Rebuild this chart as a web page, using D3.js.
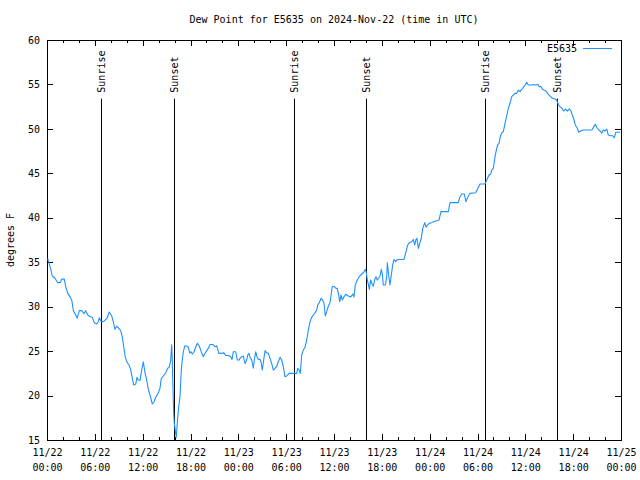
<!DOCTYPE html>
<html><head><meta charset="utf-8">
<script src="https://cdn.jsdelivr.net/npm/d3@7"></script>
<style>
html,body{margin:0;padding:0;background:#fff;}
text{font-family:"DejaVu Sans Mono",monospace;font-size:10px;fill:#000;}
</style></head>
<body>
<svg id="chart" width="640" height="480"></svg>
<script>
const chartTitle = "Dew Point for E5635 on 2024-Nov-22 (time in UTC)";
const yLabel = "degrees F";
const seriesName = "E5635";
const startUtc = Date.UTC(2024, 10, 22, 0, 0);
const spanHours = 72;
const yDomain = [15, 60];
const yTicks = [15, 20, 25, 30, 35, 40, 45, 50, 55, 60];

// Sun events, hours after 2024-11-22 00:00 UTC
const sunEvents = [
  {label: "Sunrise", h: 6.81}, {label: "Sunset", h: 15.97},
  {label: "Sunrise", h: 30.94}, {label: "Sunset", h: 40.06},
  {label: "Sunrise", h: 54.98}, {label: "Sunset", h: 63.97}
];
const sunLineTop = 53.4; // deg F level where the marker lines start

// [hours after start, dew point F]
const obsDay1 = [
[0.09,35.4],[0.25,34.9],[0.50,34.1],[0.66,33.45],[1.00,33.2],[1.34,32.7],[1.67,32.7],[1.84,33.1],[2.17,33.1],[2.35,32.25],
[2.60,31.5],[2.89,31.1],[3.10,30.75],[3.30,29.6],[3.60,29.06],[3.80,28.7],[4.05,29.55],[4.35,29.55],[4.64,29.2],[4.85,29.55],
[5.11,29.06],[5.39,28.9],[5.68,28.8],[5.93,28.2],[6.23,28.05],[6.43,28.3],[6.56,28.76],[6.74,28.4],[6.94,28.3],[7.19,28.4],
[7.53,28.7],[7.81,29.4],[8.12,28.95],[8.32,28.3],[8.53,27.45],[8.74,27.8],[8.94,27.65],[9.24,27.3],[9.45,26.55],[9.62,25.5],
[9.82,24.3],[10.07,23.7],[10.29,23.44],[10.50,22.9],[10.70,21.94],[10.88,21.2],[11.13,21.3],[11.29,22.05],[11.45,21.75],[11.67,21.7],
[11.88,22.9],[12.08,23.8],[12.29,22.57],[12.51,21.75],[12.71,20.7],[12.92,20.06],[13.21,19.05],[13.42,19.3],[13.67,19.87],[13.96,20.3],
[14.17,20.8],[14.34,21.94],[14.59,22.2],[14.89,22.57],[15.14,23.07],[15.34,23.2],[15.52,24.0],[15.64,25.7],[15.72,23.8],[15.81,20.4],
[15.89,18.0],[15.97,16.88],[16.09,16.1],[16.22,15.3],[16.34,16.9],[16.52,18.75],[16.68,19.87],[16.85,22.9],[16.97,24.0],[17.10,24.9],
[17.27,25.57],[17.52,25.57],[17.72,25.43],[17.90,24.8],[18.06,24.93],[18.23,24.67],[18.44,24.93],[18.65,25.43],[18.85,25.88],[19.10,25.57],
[19.35,24.93],[19.61,24.37],[19.82,24.75],[20.03,25.05],[20.23,25.3],[20.45,25.75],[20.78,25.75],[21.07,25.5],[21.29,25.6],[21.45,25.1],
[21.54,24.75],[21.91,24.75],[22.20,24.8],[22.45,24.5],[22.79,24.5],[23.04,24.37],[23.21,24.07],[23.37,24.93],[23.67,24.93],[23.87,24.0]
];
const obsDay2 = [
[24.12,24.0],[24.21,24.2],[24.42,24.37],[24.62,24.45],[24.84,23.6],[25.05,24.0],[25.18,24.56],[25.34,24.75],[25.46,24.3],[25.68,24.0],
[25.88,23.07],[26.00,24.0],[26.18,24.93],[26.34,24.37],[26.50,24.07],[26.72,24.07],[26.84,23.8],[27.01,22.87],[27.18,24.0],[27.35,25.05],
[27.56,24.8],[27.76,24.75],[27.97,24.2],[28.19,23.6],[28.39,22.87],[28.60,23.07],[28.81,23.25],[29.01,23.8],[29.23,24.3],[29.44,24.0],
[29.64,23.25],[29.85,22.12],[30.07,22.2],[30.36,22.5],[30.69,22.5],[31.02,22.5],[31.32,22.5],[31.45,23.07],[31.61,22.87],[31.77,22.5],
[31.95,24.56],[32.15,25.12],[32.36,25.43],[32.58,26.25],[32.78,27.37],[32.99,28.3],[33.20,28.8],[33.40,29.06],[33.62,29.3],[33.83,29.62],
[33.96,30.19],[34.16,30.45],[34.37,30.94],[34.58,30.75],[34.75,30.37],[34.91,28.95],[35.09,29.44],[35.29,30.07],[35.50,30.45],[35.62,31.2],
[35.79,32.3],[36.04,32.25],[36.25,32.06],[36.41,32.06],[36.59,31.3],[36.72,30.56],[36.88,31.3],[37.04,30.75],[37.25,31.1],[37.47,31.4],
[37.79,31.2],[38.10,31.1],[38.35,31.42],[38.51,31.1],[38.67,32.44],[38.92,33.0],[39.17,33.37],[39.47,33.67],[39.68,33.82],[39.93,34.2],
[40.05,33.82],[40.18,33.0],[40.30,32.55],[40.43,31.94],[40.60,33.0],[40.77,32.55],[40.93,32.3],[41.11,33.06],[41.27,33.37],[41.43,33.0],
[41.61,33.2],[41.77,33.45],[41.93,34.2],[42.06,33.64],[42.18,32.44],[42.44,32.44],[42.61,33.37],[42.69,34.94],[42.86,33.56],[43.02,32.44],
[43.19,33.56],[43.36,34.69],[43.53,35.31],[43.74,35.06],[43.94,35.31],[44.49,35.31],[44.78,35.31],[45.03,36.19],[45.25,36.94],[45.45,37.2],
[45.75,37.3],[45.95,37.56],[46.12,36.94],[46.29,37.56],[46.41,37.7],[46.58,36.56],[46.75,37.1],[46.95,37.7],[47.13,38.81],[47.38,39.45],
[47.54,38.94],[47.75,39.19],[47.95,39.37]
];
const obsDay3 = [
[48.04,39.37],[48.46,39.56],[48.88,39.67],[49.17,39.75],[49.42,40.69],[50.34,40.69],[50.55,41.7],[51.59,41.7],[51.80,42.37],[52.02,42.67],
[52.34,42.67],[52.56,41.81],[52.77,42.3],[53.06,42.75],[53.77,42.82],[54.03,43.3],[54.31,43.8],[54.94,43.8],[55.16,44.25],[55.44,44.81],
[55.66,44.93],[55.78,45.37],[55.98,45.56],[56.20,46.87],[56.41,47.81],[56.53,48.19],[56.70,48.37],[56.86,49.12],[57.04,49.56],[57.24,49.69],
[57.45,50.63],[57.66,51.45],[57.86,52.31],[58.08,52.88],[58.29,53.62],[58.49,53.81],[58.70,54.0],[58.92,54.0],[59.12,54.37],[59.33,54.19],
[59.54,54.45],[59.67,54.56],[59.96,54.94],[60.17,55.24],[60.37,54.94],[60.80,54.94],[61.00,55.0],[61.30,54.94],[61.55,55.0],[61.75,54.75],
[61.97,54.75],[62.13,54.49],[62.34,54.37],[62.59,54.26],[62.88,53.89],[63.18,53.62],[63.43,53.44],[63.72,53.36],[63.93,53.25],[64.13,52.77],
[64.35,52.5],[64.60,52.31],[64.81,52.01],[65.06,52.24],[65.26,52.0],[65.52,52.24],[65.73,52.01],[65.89,51.56],[66.11,51.0],[66.27,50.44],
[66.52,50.07],[66.70,49.62],[66.95,49.76],[67.28,49.87],[68.36,49.87],[68.58,50.25],[68.78,50.51],[68.99,50.13],[69.20,49.87],[69.40,49.76],
[69.58,49.5],[69.78,49.87],[69.99,49.76],[70.21,49.98],[70.41,49.31],[70.71,49.23],[70.96,49.23],[71.16,49.0],[71.34,49.62],[71.54,49.62],
[71.88,49.62]
];

const observations = obsDay1.concat(obsDay2, obsDay3);
const H = 3600 * 1000;
const toDate = h => new Date(startUtc + h * H);

const margin = {left: 47, right: 19, top: 40, bottom: 40};
const W = 640, Ht = 480;
const svg = d3.select("#chart");

const x = d3.scaleUtc().domain([toDate(0), toDate(spanHours)]).range([margin.left, W - margin.right]);
const y = d3.scaleLinear().domain(yDomain).range([Ht - margin.bottom, margin.top]);

const majorTimes = d3.range(0, spanHours + 1, 6).map(toDate);
const minorTimes = d3.range(0, spanHours + 1, 2).filter(h => h % 6 !== 0).map(toDate);

const fmtDay = d3.utcFormat("%m/%d"), fmtTime = d3.utcFormat("%H:%M");

// bottom axis (major, labeled)
const gB = svg.append("g").attr("transform", `translate(0,${y.range()[0]})`)
  .call(d3.axisBottom(x).tickValues(majorTimes).tickSizeInner(-6).tickSizeOuter(0).tickPadding(9).tickFormat(() => ""));
gB.selectAll(".tick text").each(function(d) {
  const t = d3.select(this);
  t.append("tspan").attr("x", 0).attr("dy", "0.71em").text(fmtDay(d));
  t.append("tspan").attr("x", 0).attr("dy", "1.5em").text(fmtTime(d));
});
svg.append("g").attr("transform", `translate(0,${y.range()[0]})`)
  .call(d3.axisBottom(x).tickValues(minorTimes).tickSizeInner(-3).tickSizeOuter(0).tickFormat(() => ""));
// top axis mirror
svg.append("g").attr("transform", `translate(0,${y.range()[1]})`)
  .call(d3.axisTop(x).tickValues(majorTimes).tickSizeInner(-6).tickSizeOuter(0).tickFormat(() => ""));
svg.append("g").attr("transform", `translate(0,${y.range()[1]})`)
  .call(d3.axisTop(x).tickValues(minorTimes).tickSizeInner(-3).tickSizeOuter(0).tickFormat(() => ""));
// left axis
svg.append("g").attr("transform", `translate(${x.range()[0]},0)`)
  .call(d3.axisLeft(y).tickValues(yTicks).tickSizeInner(-6).tickSizeOuter(0).tickPadding(7).tickFormat(d3.format("d")));
// right axis mirror
svg.append("g").attr("transform", `translate(${x.range()[1]},0)`)
  .call(d3.axisRight(y).tickValues(yTicks).tickSizeInner(-6).tickSizeOuter(0).tickFormat(() => ""));

svg.selectAll(".domain").remove();
svg.selectAll(".tick line").attr("stroke", "#000").attr("shape-rendering", "crispEdges");
svg.selectAll(".tick text").attr("font-family", "DejaVu Sans Mono, monospace").attr("font-size", 10).attr("fill", "#000");

// frame
svg.append("rect")
  .attr("x", x.range()[0]).attr("y", y.range()[1])
  .attr("width", x.range()[1] - x.range()[0]).attr("height", y.range()[0] - y.range()[1])
  .attr("fill", "none").attr("stroke", "#000").attr("shape-rendering", "crispEdges");

// sun event lines
const sg = svg.append("g");
sunEvents.forEach(e => {
  const xp = Math.round(x(toDate(e.h))) + 0.5;
  sg.append("line").attr("x1", xp).attr("x2", xp).attr("y1", y(sunLineTop)).attr("y2", y(yDomain[0]))
    .attr("stroke", "#000").attr("stroke-width", 1);
  sg.append("text").attr("transform", `translate(${xp},${y(sunLineTop) - 6}) rotate(-90)`)
    .attr("text-anchor", "start").attr("dy", "0.35em").text(e.label);
});

// data line
svg.append("clipPath").attr("id", "clip").append("rect")
  .attr("x", x.range()[0]).attr("y", y.range()[1])
  .attr("width", x.range()[1] - x.range()[0]).attr("height", y.range()[0] - y.range()[1]);
const line = d3.line().x(d => x(toDate(d[0]))).y(d => y(d[1]));
svg.append("path").datum(observations).attr("clip-path", "url(#clip)")
  .attr("d", line).attr("fill", "none").attr("stroke", "#1E90FF").attr("stroke-width", 1.1)
  .attr("stroke-linejoin", "round");

// title
svg.append("text").attr("x", (x.range()[0] + x.range()[1]) / 2).attr("y", 23)
  .attr("text-anchor", "middle").text(chartTitle);
// y label
svg.append("text").attr("transform", `translate(14,${(y.range()[0] + y.range()[1]) / 2}) rotate(-90)`)
  .attr("text-anchor", "middle").text(yLabel);
// legend
svg.append("text").attr("x", 577).attr("y", 52).attr("text-anchor", "end").text(seriesName);
svg.append("line").attr("x1", 583).attr("x2", 612).attr("y1", 48.5).attr("y2", 48.5)
  .attr("stroke", "#1E90FF").attr("stroke-width", 1);
</script>
</body></html>
